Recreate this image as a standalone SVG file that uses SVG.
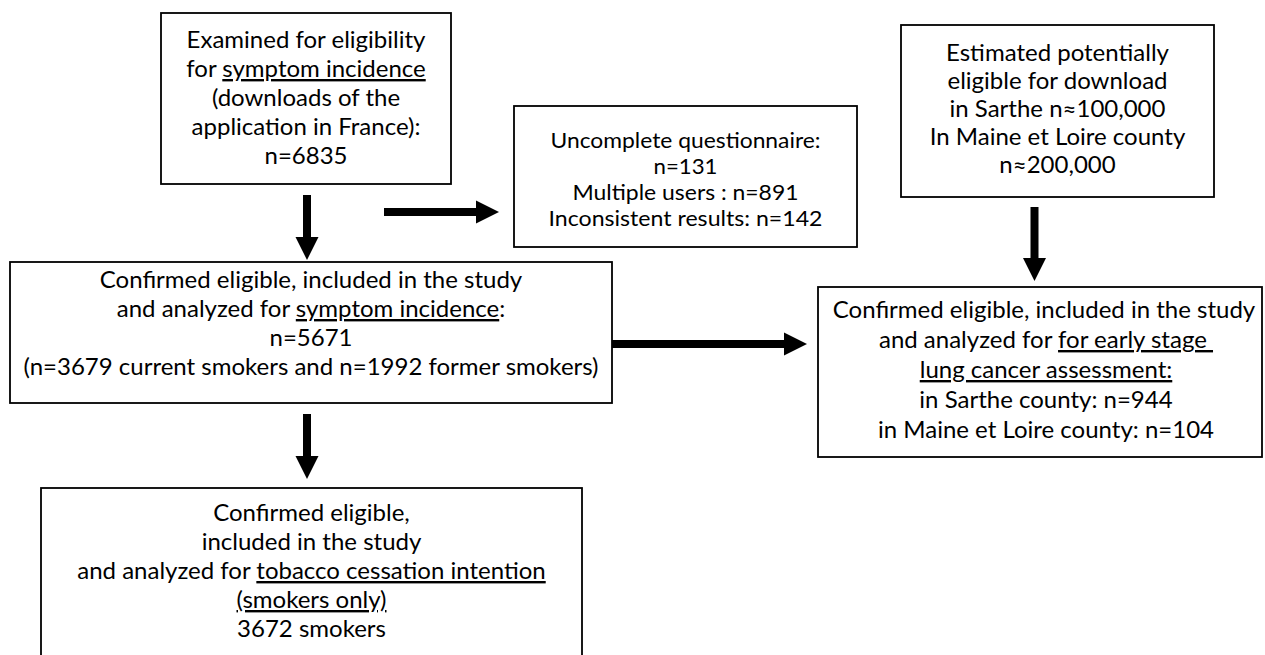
<svg xmlns="http://www.w3.org/2000/svg" width="1265" height="655" viewBox="0 0 1265 655">
<style>
  .box { fill: #fff; stroke: #000; stroke-width: 1.8; }
  .t { font-family: Lato, "Open Sans", "Liberation Sans", sans-serif; font-size: 24px; fill: #000; text-anchor: middle; }
  .t2 { font-size: 21.5px; }
  .u { text-decoration: underline; }
  .arr { stroke: #000; stroke-width: 8; fill: none; marker-end: url(#head); }
</style>
<defs>
  <marker id="head" markerUnits="userSpaceOnUse" markerWidth="23" markerHeight="23" refX="0" refY="11.5" orient="auto" overflow="visible">
    <path d="M0,0 L23,11.5 L0,23 Z" fill="#000"/>
  </marker>
</defs>
<rect width="1265" height="655" fill="#fff"/>

<g id="connectors">
  <line class="arr" x1="307" y1="195" x2="307" y2="237"/>
  <line class="arr" x1="384" y1="212" x2="476" y2="212"/>
  <line class="arr" x1="1034.5" y1="207" x2="1034.5" y2="258"/>
  <line class="arr" x1="605" y1="344" x2="784" y2="344"/>
  <line class="arr" x1="307" y1="414" x2="307" y2="456"/>
</g>

<g id="node-examined">
  <rect class="box" x="161" y="13" width="290" height="171"/>
  <text class="t" x="306" y="48">Examined for eligibility</text>
  <text class="t" x="306" y="77">for <tspan class="u">symptom incidence</tspan></text>
  <text class="t" x="306" y="106">(downloads of the</text>
  <text class="t" x="306" y="135">application in France):</text>
  <text class="t" x="306" y="164">n=6835</text>
</g>

<g id="node-excluded">
  <rect class="box" x="514" y="106" width="343" height="141"/>
  <text class="t t2" x="685.5" y="148" textLength="270" lengthAdjust="spacingAndGlyphs">Uncomplete questionnaire:</text>
  <text class="t t2" x="685.5" y="174" textLength="64" lengthAdjust="spacingAndGlyphs">n=131</text>
  <text class="t t2" x="685.5" y="200" textLength="226" lengthAdjust="spacingAndGlyphs">Multiple users : n=891</text>
  <text class="t t2" x="685.5" y="226" textLength="274" lengthAdjust="spacingAndGlyphs">Inconsistent results: n=142</text>
</g>

<g id="node-estimated">
  <rect class="box" x="901" y="25" width="313" height="172"/>
  <text class="t" x="1057.5" y="61">Estimated potentially</text>
  <text class="t" x="1057.5" y="89">eligible for download</text>
  <text class="t" x="1057.5" y="117">in Sarthe n≈100,000</text>
  <text class="t" x="1057.5" y="145">In Maine et Loire county</text>
  <text class="t" x="1057.5" y="173">n≈200,000</text>
</g>

<g id="node-symptom">
  <rect class="box" x="10" y="262" width="602" height="141"/>
  <text class="t" x="311" y="288">Confirmed eligible, included in the study</text>
  <text class="t" x="311" y="317">and analyzed for <tspan class="u">symptom incidence</tspan>:</text>
  <text class="t" x="311" y="346">n=5671</text>
  <text class="t" x="311" y="375">(n=3679 current smokers and n=1992 former smokers)</text>
</g>

<g id="node-lungcancer">
  <rect class="box" x="818" y="287" width="444" height="170"/>
  <text class="t" x="1044" y="318">Confirmed eligible, included in the study</text>
  <text class="t" x="1046" y="348" xml:space="preserve">and analyzed for <tspan class="u">for early stage </tspan></text>
  <text class="t" x="1046" y="378"><tspan class="u">lung cancer assessment:</tspan></text>
  <text class="t" x="1046" y="408">in Sarthe county: n=944</text>
  <text class="t" x="1046" y="438">in Maine et Loire county: n=104</text>
</g>

<g id="node-tobacco">
  <rect class="box" x="41" y="488" width="541" height="200"/>
  <text class="t" x="311.5" y="521">Confirmed eligible,</text>
  <text class="t" x="311.5" y="550">included in the study</text>
  <text class="t" x="311.5" y="579">and analyzed for <tspan class="u">tobacco cessation intention</tspan></text>
  <text class="t" x="311.5" y="608"><tspan class="u">(smokers only)</tspan></text>
  <text class="t" x="311.5" y="637">3672 smokers</text>
</g>
</svg>
